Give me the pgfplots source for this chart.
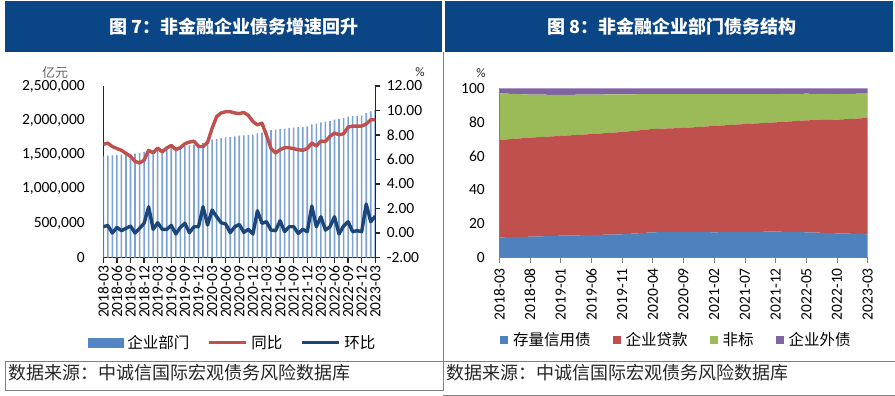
\documentclass[border=0pt]{standalone}
\usepackage{fontspec}
\setmainfont{Carlito}
\newfontfamily\cjk{Noto Sans CJK SC}
\usepackage{pgfplots}
\usepackage{pgfplotstable}
\pgfplotsset{compat=1.18}
\definecolor{hdr}{RGB}{10,69,134}
\definecolor{grl}{RGB}{128,128,128}
\definecolor{cred}{RGB}{192,80,77}
\definecolor{cblue}{RGB}{28,70,122}
\definecolor{cbar}{RGB}{125,162,212}
\definecolor{cbarleg}{RGB}{84,134,198}
\definecolor{a1}{RGB}{79,129,189}
\definecolor{a2}{RGB}{192,80,77}
\definecolor{a3}{RGB}{155,187,89}
\definecolor{a4}{RGB}{128,100,162}
\definecolor{spine}{RGB}{38,38,38}

\pgfplotstableread{
i v
0 1480000
1 1485000
2 1490000
3 1495000
4 1500000
5 1502000
6 1510000
7 1515000
8 1520000
9 1535000
10 1550000
11 1555000
12 1570000
13 1580000
14 1585000
15 1600000
16 1605000
17 1610000
18 1625000
19 1635000
20 1645000
21 1660000
22 1670000
23 1690000
24 1720000
25 1730000
26 1740000
27 1750000
28 1755000
29 1765000
30 1775000
31 1780000
32 1785000
33 1790000
34 1810000
35 1820000
36 1850000
37 1855000
38 1865000
39 1875000
40 1880000
41 1890000
42 1895000
43 1900000
44 1905000
45 1910000
46 1940000
47 1950000
48 1970000
49 1980000
50 1990000
51 2010000
52 2020000
53 2030000
54 2055000
55 2060000
56 2065000
57 2070000
58 2110000
59 2130000
60 2150000
}\bars

\pgfplotstableread{
i yoy mom
0 7.24 0.51
1 7.34 0.62
2 7.05 0.00
3 6.90 0.46
4 6.75 0.19
5 6.50 0.38
6 6.26 0.57
7 5.85 0.00
8 5.72 0.38
9 5.95 0.79
10 6.75 2.14
11 6.55 0.30
12 6.94 0.84
13 6.62 0.30
14 6.94 0.30
15 7.15 0.62
16 6.82 -0.08
17 6.96 0.46
18 7.29 0.79
19 7.42 0.03
20 7.50 0.51
21 7.07 0.51
22 7.05 2.14
23 7.40 0.65
24 8.55 1.87
25 9.50 1.33
26 9.80 0.84
27 9.90 0.73
28 9.90 0.03
29 9.80 0.51
30 9.75 0.70
31 9.84 0.05
32 9.60 0.30
33 9.10 -0.08
34 8.83 1.82
35 8.97 0.79
36 7.97 0.92
37 6.90 0.24
38 6.53 0.19
39 6.80 1.00
40 6.96 0.11
41 6.96 0.51
42 6.88 0.51
43 6.80 -0.03
44 6.75 0.30
45 6.90 0.11
46 7.34 2.20
47 7.10 0.51
48 7.50 1.33
49 7.48 0.24
50 7.89 0.51
51 8.16 1.33
52 8.02 -0.08
53 8.10 0.57
54 8.64 0.92
55 8.73 0.11
56 8.73 0.19
57 8.73 0.11
58 8.90 2.36
59 9.24 0.92
60 9.27 1.38
}\lines

\pgfplotstableread{
i b r g p
0 12.0 57.5 27.5 3.0
5 12.4 58.5 25.4 3.7
10 13.0 58.9 24.2 3.9
15 13.4 59.6 23.3 3.7
20 13.8 60.4 22.2 3.6
25 15.0 61.0 20.6 3.4
30 15.2 61.4 20.0 3.4
35 15.0 62.8 18.8 3.4
40 15.2 63.7 17.7 3.4
45 15.4 64.5 16.7 3.4
50 15.0 66.1 15.7 3.2
55 14.4 67.1 15.1 3.4
60 13.8 68.7 14.4 3.1
}\shares

\begin{document}
\begin{tikzpicture}
\useasboundingbox (0,0) rectangle (895pt,-396pt);
\fill[white] (0,0) rectangle (895pt,-396pt);
% headers
\fill[hdr] (5pt,-1pt) rectangle (442.3pt,-51.7pt);
\fill[hdr] (444.5pt,-1pt) rectangle (893pt,-51.7pt);
\node[white, font=\cjk\bfseries\fontsize{18}{20}\selectfont] at (234pt,-26.7pt) {图 7：非金融企业债务增速回升};
\node[white, font=\cjk\bfseries\fontsize{18}{20}\selectfont] at (672pt,-26.7pt) {图 8：非金融企业部门债务结构};
% frame lines
\draw[grl, line width=0.8pt] (443.3pt,-51.7pt) -- (443.3pt,-390.5pt);
\draw[grl, line width=0.8pt] (5pt,-361pt) -- (895pt,-361pt);
\draw[grl, line width=0.8pt] (5pt,-361pt) -- (5pt,-390.5pt);
\draw[grl, line width=0.8pt] (5pt,-390.5pt) -- (443.3pt,-390.5pt);
\draw[grl, line width=0.8pt] (443.3pt,-395pt) -- (895pt,-395pt);
% footers
\node[anchor=west, inner sep=0pt, font=\cjk\fontsize{18}{20}\selectfont, text=black!85] at (8.3pt,-373pt) {数据来源：中诚信国际宏观债务风险数据库};
\node[anchor=west, inner sep=0pt, font=\cjk\fontsize{18}{20}\selectfont, text=black!85] at (446.7pt,-373pt) {数据来源：中诚信国际宏观债务风险数据库};
% unit labels
\node[font=\cjk\fontsize{13}{15}\selectfont, text=black!60] at (55pt,-73pt) {亿元};
\node[font=\fontsize{13}{15}\selectfont, text=black!85] at (420pt,-72pt) {\%};
\node[font=\fontsize{13}{15}\selectfont, text=black!85, inner sep=0pt] at (481pt,-73pt) {\%};

% ---------- left chart: bars ----------
\begin{axis}[
  at={(103.3pt,-257.5pt)}, anchor=south west, scale only axis,
  width=272pt, height=171.5pt,
  xmin=0, xmax=60, ymin=0, ymax=2500000,
  axis y line*=left, axis x line*=bottom,
  axis line style={spine, line width=1.3pt},
  tick align=outside, major tick length=5pt,
  xtick={0,3,...,60},
  xticklabels={2018-03,2018-06,2018-09,2018-12,2019-03,2019-06,2019-09,2019-12,2020-03,2020-06,2020-09,2020-12,2021-03,2021-06,2021-09,2021-12,2022-03,2022-06,2022-09,2022-12,2023-03},
  xticklabel style={rotate=90, anchor=east},
  xtick style={spine, line width=1.2pt},
  ytick={0,500000,1000000,1500000,2000000,2500000},
  ytick style={draw=none},
  scaled y ticks=false,
  yticklabel style={/pgf/number format/.cd, fixed, 1000 sep={,}},
  /pgf/number format/assume math mode=true,
  yticklabel shift=10pt,
  tick label style={font=\fontsize{15.5}{17}\selectfont, text=black},
]
\addplot[ybar, bar width=1.6pt, fill=cbar, draw=none] table[x=i, y=v] {\bars};
\end{axis}

% ---------- left chart: lines ----------
\begin{axis}[
  at={(103.3pt,-257.5pt)}, anchor=south west, scale only axis,
  width=272pt, height=171.5pt,
  xmin=0, xmax=60, ymin=-2, ymax=12,
  axis x line=none, axis y line*=right,
  axis line style={spine, line width=1.3pt},
  tick align=outside, major tick length=5pt,
  ytick={-2,0,2,4,6,8,10,12},
  ytick style={spine, line width=1.2pt},
  yticklabel style={/pgf/number format/.cd, fixed, fixed zerofill, precision=2},
  /pgf/number format/assume math mode=true,
  yticklabel shift=3pt,
  tick label style={font=\fontsize{15.5}{17}\selectfont, text=black},
  legend image code/.code={\draw[#1, line width=3pt] (0pt,0pt) -- (37pt,0pt);},
  legend columns=3,
  legend style={at={(-0.05625,-0.4985)}, anchor=west, draw=none, fill=none,
    inner sep=0pt, outer sep=0pt,
    font=\cjk\fontsize{15.5}{17}\selectfont,
    nodes={inner sep=0pt},
    /tikz/every odd column/.append style={column sep=4pt},
    /tikz/every even column/.append style={column sep=18pt}},
]
\addlegendimage{legend image code/.code={\fill[cbarleg] (0pt,-4.5pt) rectangle (35pt,4.5pt);}}
\addlegendentry{企业部门}
\addplot[cred, line width=3.4pt, line join=round] table[x=i, y=yoy] {\lines};
\addlegendentry{同比}
\addplot[cblue, line width=3.4pt, line join=round] table[x=i, y=mom] {\lines};
\addlegendentry{环比}
\end{axis}

% ---------- right chart ----------
\begin{axis}[
  at={(499.3pt,-257.7pt)}, anchor=south west, scale only axis,
  width=368.4pt, height=169.4pt,
  xmin=0, xmax=60, ymin=0, ymax=100,
  stack plots=y,
  axis y line*=left, axis x line*=bottom,
  axis line style={grl, line width=0.8pt},
  axis on top,
  tick align=outside, major tick length=5pt,
  xtick={0,5,...,60},
  xticklabels={2018-03,2018-08,2019-01,2019-06,2019-11,2020-04,2020-09,2021-02,2021-07,2021-12,2022-05,2022-10,2023-03},
  xticklabel style={rotate=90, anchor=east},
  xtick style={grl, line width=0.8pt},
  xticklabel shift=2pt,
  ytick={0,20,40,60,80,100},
  ytick style={draw=none},
  yticklabel shift=6pt,
  /pgf/number format/assume math mode=true,
  tick label style={font=\fontsize{15.5}{17}\selectfont, text=black},
  legend columns=4,
  legend style={at={(0.002,-0.4858)}, anchor=west, draw=none, fill=none,
    inner sep=0pt, outer sep=0pt,
    font=\cjk\fontsize{15.5}{17}\selectfont,
    nodes={inner sep=0pt},
    /tikz/every odd column/.append style={column sep=5pt},
    /tikz/every even column/.append style={column sep=22pt}},
]
\addplot[fill=a1, draw=none, legend image code/.code={\fill[a1] (0pt,-4pt) rectangle (8pt,4pt);}] table[x=i, y=b] {\shares} \closedcycle;
\addlegendentry{存量信用债}
\addplot[fill=a2, draw=none, legend image code/.code={\fill[a2] (0pt,-4pt) rectangle (8pt,4pt);}] table[x=i, y=r] {\shares} \closedcycle;
\addlegendentry{企业贷款}
\addplot[fill=a3, draw=none, legend image code/.code={\fill[a3] (0pt,-4pt) rectangle (8pt,4pt);}] table[x=i, y=g] {\shares} \closedcycle;
\addlegendentry{非标}
\addplot[fill=a4, draw=none, legend image code/.code={\fill[a4] (0pt,-4pt) rectangle (8pt,4pt);}] table[x=i, y=p] {\shares} \closedcycle;
\addlegendentry{企业外债}
\end{axis}
\end{tikzpicture}
\end{document}
